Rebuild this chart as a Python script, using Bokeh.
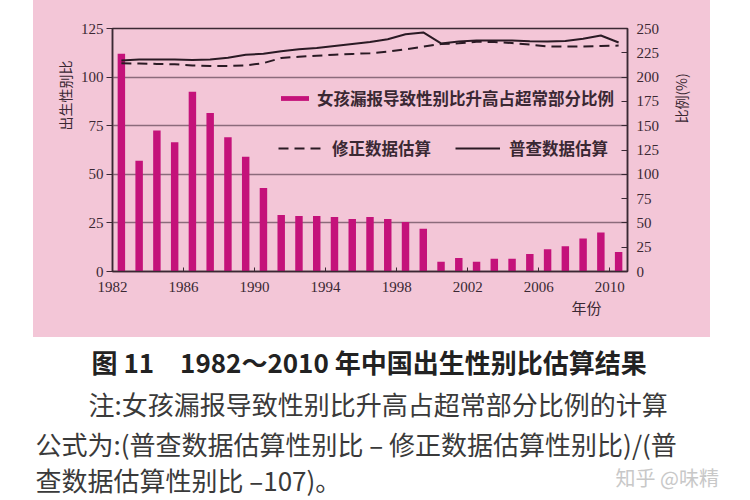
import math
from bokeh.plotting import figure
from bokeh.models import (Range1d, LinearAxis, FixedTicker, Label, Legend, LegendItem,
                          ColumnDataSource, Spacer, Title)
from bokeh.layouts import column, row
from bokeh.embed import file_html
from bokeh.resources import INLINE

# ---------------- data ----------------
years = list(range(1982, 2011))
# 女孩漏报导致性别比升高占超常部分比例 (%), right axis
share_pct = [224, 114, 145, 133, 185, 163, 138, 118, 86, 58,
             57, 57, 56, 54, 56, 54, 51, 44, 10, 14,
             10, 13, 13, 18, 23, 26, 34, 40, 20]
# 普查数据估算 (sex ratio), left axis
census = [108.5, 109.0, 109.0, 109.0, 108.8, 109.0, 110.0, 111.5, 112.0, 113.3,
          114.3, 115.0, 116.0, 117.0, 118.0, 119.5, 122.0, 123.0, 117.3, 118.3,
          118.8, 118.8, 118.8, 118.5, 118.3, 118.6, 119.7, 121.4, 117.8]
# 修正数据估算 (sex ratio), left axis
corrected = [107.1, 107.0, 106.8, 106.6, 106.0, 105.7, 105.7, 106.0, 107.2, 109.8,
             110.5, 111.0, 111.5, 111.9, 112.3, 113.1, 114.3, 115.7, 117.0, 117.4,
             118.2, 118.0, 117.5, 116.7, 115.8, 115.7, 115.8, 116.0, 116.2]
x_ticks = [1982, 1986, 1990, 1994, 1998, 2002, 2006, 2010]
left_ticks = [0, 25, 50, 75, 100, 125]
right_ticks = [0, 25, 50, 75, 100, 125, 150, 175, 200, 225, 250]

label_bar = "女孩漏报导致性别比升高占超常部分比例"
label_dash = "修正数据估算"
label_solid = "普查数据估算"
left_title = "出生性别比"
right_title = "比例(%)"
x_title = "年份"

# ---------------- style ----------------
PINK = "#f3c6d7"
BAR = "#c4127a"
INK = "#3a2833"
GRID = "#8b6b7b"
SERIF = "Liberation Serif"
CJK = "Noto Sans CJK SC"

src = ColumnDataSource(dict(x=[y + 0.5 for y in years], pct=share_pct,
                            census=census, corrected=corrected))

p = figure(width=637, height=337, x_range=Range1d(1982, 2011), y_range=Range1d(0, 125),
           output_backend="svg", toolbar_location=None,
           min_border_left=79, min_border_right=43, min_border_top=28, min_border_bottom=66,
           background_fill_color=PINK, border_fill_color=PINK,
           outline_line_color=INK, outline_line_width=1.5)
p.extra_y_ranges = {"pct": Range1d(0, 250)}

r_bar = p.vbar(x="x", top="pct", bottom=0, width=0.42, source=src, y_range_name="pct",
               fill_color=BAR, line_color=None)
r_dash = p.line("x", "corrected", source=src, line_color="#2a1a24", line_width=2,
                line_dash="10 6")
r_solid = p.line("x", "census", source=src, line_color="#2a1a24", line_width=2)

# axes
p.xaxis.ticker = FixedTicker(ticks=x_ticks)
p.yaxis.ticker = FixedTicker(ticks=left_ticks)
for ax in (p.xaxis[0], p.yaxis[0]):
    ax.axis_line_color = INK
    ax.axis_line_width = 1.5
    ax.major_tick_line_color = INK
    ax.minor_tick_line_color = None
    ax.major_label_text_font = SERIF
    ax.major_label_text_font_size = "15px"
    ax.major_label_text_color = INK
p.xaxis.major_tick_in = 4
p.xaxis.major_tick_out = 0
p.xaxis.major_label_standoff = 10
p.yaxis.major_tick_in = 0
p.yaxis.major_tick_out = 6
p.yaxis.major_label_standoff = 3

ry = LinearAxis(y_range_name="pct", ticker=FixedTicker(ticks=right_ticks))
ry.axis_line_color = INK
ry.axis_line_width = 1.5
ry.major_tick_line_color = INK
ry.minor_tick_line_color = None
ry.major_tick_in = 6
ry.major_tick_out = 0
ry.major_label_standoff = 9
ry.major_label_text_font = SERIF
ry.major_label_text_font_size = "15px"
ry.major_label_text_color = INK
p.add_layout(ry, "right")

p.xgrid.visible = False
p.ygrid.ticker = FixedTicker(ticks=[25, 50, 75, 100])
p.ygrid.grid_line_color = GRID
p.ygrid.grid_line_width = 1.5

# axis titles (side titles so they can sit off-centre)
p.add_layout(Title(text=left_title, align="right", offset=32, standoff=6,
                   text_font=CJK, text_font_size="14px", text_font_style="normal",
                   text_color=INK), "left")
p.add_layout(Title(text=x_title, align="right", offset=26, standoff=0,
                   text_font=CJK, text_font_size="15px", text_font_style="normal",
                   text_color=INK), "below")

# legends
common = dict(padding=0, margin=0, spacing=24, border_line_alpha=0, background_fill_alpha=0,
              label_text_font=CJK, label_text_font_size="16.5px", label_text_color=INK,
              label_text_font_style="bold", label_height=18)
leg1 = Legend(items=[LegendItem(label=label_bar, renderers=[r_bar])], location=(165, 161),
              glyph_width=35, glyph_height=6, label_standoff=5, **common)
leg2 = Legend(items=[LegendItem(label=label_dash, renderers=[r_dash]),
                     LegendItem(label=label_solid, renderers=[r_solid])],
              location=(166, 111), orientation="horizontal",
              glyph_width=45, glyph_height=18, label_standoff=9, **common)
p.add_layout(leg1)
p.add_layout(leg2)

# right-hand strip carrying the right axis title (reads bottom to top)
pr = figure(width=40, height=337, x_range=Range1d(0, 40), y_range=Range1d(0, 337),
            output_backend="svg", toolbar_location=None, min_border=0,
            background_fill_color=PINK, border_fill_color=PINK, outline_line_color=None)
pr.axis.visible = False
pr.grid.visible = False
pr.add_layout(Label(x=10, y=240, text=right_title, angle=math.pi / 2,
                    text_align="center", text_baseline="middle",
                    text_font=CJK, text_font_size="14px", text_color=INK))

# ---------------- caption ----------------
caption = "图 11　1982～2010 年中国出生性别比估算结果"
note1 = "注:女孩漏报导致性别比升高占超常部分比例的计算"
note2 = "公式为:(普查数据估算性别比 – 修正数据估算性别比)/(普"
note3 = "查数据估算性别比 –107)。"
watermark = "知乎 @味精"

p2 = figure(width=750, height=163, x_range=Range1d(0, 750), y_range=Range1d(163, 0),
            output_backend="svg", toolbar_location=None, min_border=0,
            background_fill_color="white", border_fill_color="white", outline_line_color=None)
p2.axis.visible = False
p2.grid.visible = False

p2.add_layout(Label(x=91, y=24, text=caption, text_baseline="middle",
                    text_font=CJK, text_font_style="bold", text_font_size="26px",
                    text_color="#222222"))
for xx, yy, t in [(88, 66, note1), (35, 106, note2), (35, 142, note3)]:
    p2.add_layout(Label(x=xx, y=yy, text=t, text_baseline="middle",
                        text_font=CJK, text_font_size="26px", text_color="#3a3a3a"))
p2.add_layout(Label(x=615, y=140, text=watermark, text_baseline="middle",
                    text_font=CJK, text_font_size="20px", text_color="#c8c8c8"))

top_row = row(Spacer(width=33, height=337, styles={"background-color": "white"}), p, pr,
              styles={"background-color": PINK})
layout = column(top_row, p2)
open("out.html", "w").write(file_html(layout, INLINE))
